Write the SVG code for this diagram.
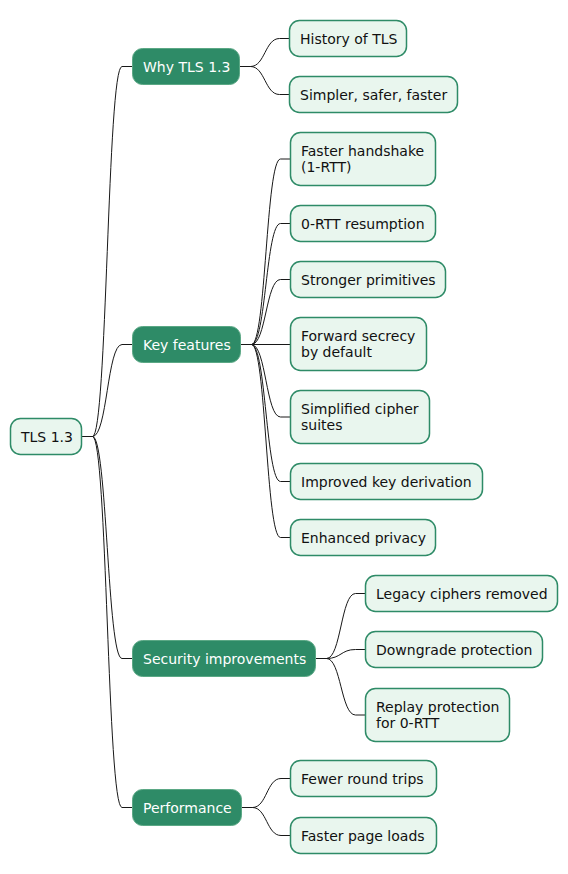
<svg xmlns="http://www.w3.org/2000/svg" width="568" height="874" viewBox="0 0 568 874">
<style>
.n rect{fill:#E9F6EE;stroke:#2E8B67;stroke-width:1.5}
.d rect{fill:#2E8B67;stroke:#5BA885;stroke-width:1}
text{font-family:"DejaVu Sans",Verdana,sans-serif;font-size:14px;fill:#111111}
.d text{fill:#FFFFFF}
#connectors path{fill:none;stroke:#181818;stroke-width:1}
</style>
<rect width="568" height="874" fill="#FFFFFF"/>
<g id="connectors">
<path d="M81.5 436.5 H92.5 C107.25 436.5 107.25 66.5 122 66.5 H132.5"/>
<path d="M81.5 436.5 H92.5 C107.25 436.5 107.25 344.5 122 344.5 H132.5"/>
<path d="M81.5 436.5 H92.5 C107.25 436.5 107.25 658.5 122 658.5 H132.5"/>
<path d="M81.5 436.5 H92.5 C107.25 436.5 107.25 807.5 122 807.5 H132.5"/>
<path d="M239.5 66.5 H250.5 C265 66.5 265 38.5 279.5 38.5 H289.5"/>
<path d="M239.5 66.5 H250.5 C265 66.5 265 94.5 279.5 94.5 H289.5"/>
<path d="M240.5 344.5 H251.5 C266 344.5 266 159 280.5 159 H290.5"/>
<path d="M240.5 344.5 H251.5 C266 344.5 266 223.5 280.5 223.5 H290.5"/>
<path d="M240.5 344.5 H251.5 C266 344.5 266 279.5 280.5 279.5 H290.5"/>
<path d="M240.5 344.5 H290.5"/>
<path d="M240.5 344.5 H251.5 C266 344.5 266 417 280.5 417 H290.5"/>
<path d="M240.5 344.5 H251.5 C266 344.5 266 481.5 280.5 481.5 H290.5"/>
<path d="M240.5 344.5 H251.5 C266 344.5 266 537.5 280.5 537.5 H290.5"/>
<path d="M315.5 658.5 H326.5 C341 658.5 341 593.5 355.5 593.5 H365.5"/>
<path d="M315.5 658.5 H326.5 C341 658.5 341 649.5 355.5 649.5 H365.5"/>
<path d="M315.5 658.5 H326.5 C341 658.5 341 715 355.5 715 H365.5"/>
<path d="M241.5 807.5 H252.5 C266.75 807.5 266.75 778.5 281 778.5 H290.5"/>
<path d="M241.5 807.5 H252.5 C266.75 807.5 266.75 835.5 281 835.5 H290.5"/>
</g>
<g id="root" class="n"><rect x="10.5" y="418.5" width="71" height="36" rx="10"/><text x="21" y="441.5">TLS 1.3</text></g>
<g id="why" class="d"><rect x="132.5" y="48.5" width="107" height="36" rx="10"/><text x="143" y="71.5">Why TLS 1.3</text></g>
<g id="history" class="n"><rect x="289.5" y="20.5" width="117" height="36" rx="10"/><text x="300" y="43.5">History of TLS</text></g>
<g id="simpler" class="n"><rect x="289.5" y="76.5" width="168" height="36" rx="10"/><text x="300" y="99.5">Simpler, safer, faster</text></g>
<g id="key" class="d"><rect x="132.5" y="326.5" width="108" height="36" rx="10"/><text x="143" y="349.5">Key features</text></g>
<g id="handshake" class="n"><rect x="290.5" y="132.5" width="145" height="53" rx="10"/><text x="301" y="156">Faster handshake</text><text x="301" y="172.3">(1-RTT)</text></g>
<g id="zerortt" class="n"><rect x="290.5" y="205.5" width="145" height="36" rx="10"/><text x="301" y="228.5">0-RTT resumption</text></g>
<g id="primitives" class="n"><rect x="290.5" y="261.5" width="155" height="36" rx="10"/><text x="301" y="284.5">Stronger primitives</text></g>
<g id="forward" class="n"><rect x="290.5" y="317.5" width="136" height="53" rx="10"/><text x="301" y="341">Forward secrecy</text><text x="301" y="357.3">by default</text></g>
<g id="suites" class="n"><rect x="290.5" y="390.5" width="139" height="53" rx="10"/><text x="301" y="414">Simplified cipher</text><text x="301" y="430.3">suites</text></g>
<g id="derivation" class="n"><rect x="290.5" y="463.5" width="192" height="36" rx="10"/><text x="301" y="486.5">Improved key derivation</text></g>
<g id="privacy" class="n"><rect x="290.5" y="519.5" width="145" height="36" rx="10"/><text x="301" y="542.5">Enhanced privacy</text></g>
<g id="security" class="d"><rect x="132.5" y="640.5" width="183" height="36" rx="10"/><text x="143" y="663.5">Security improvements</text></g>
<g id="legacy" class="n"><rect x="365.5" y="575.5" width="192" height="36" rx="10"/><text x="376" y="598.5">Legacy ciphers removed</text></g>
<g id="downgrade" class="n"><rect x="365.5" y="631.5" width="177" height="36" rx="10"/><text x="376" y="654.5">Downgrade protection</text></g>
<g id="replay" class="n"><rect x="365.5" y="688.5" width="144" height="53" rx="10"/><text x="376" y="712">Replay protection</text><text x="376" y="728.3">for 0-RTT</text></g>
<g id="performance" class="d"><rect x="132.5" y="789.5" width="109" height="36" rx="10"/><text x="143" y="812.5">Performance</text></g>
<g id="fewer" class="n"><rect x="290.5" y="760.5" width="146" height="36" rx="10"/><text x="301" y="783.5">Fewer round trips</text></g>
<g id="pageloads" class="n"><rect x="290.5" y="817.5" width="146" height="36" rx="10"/><text x="301" y="840.5">Faster page loads</text></g>
</svg>
